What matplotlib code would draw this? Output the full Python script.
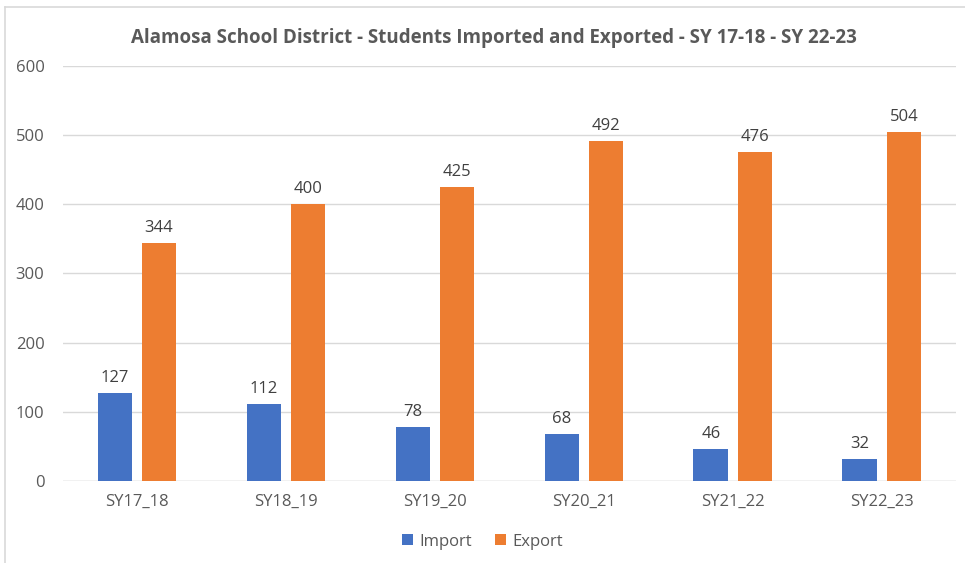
import matplotlib
matplotlib.use("Agg")
import matplotlib.pyplot as plt
import numpy as np
from matplotlib.lines import Line2D

categories = ["SY17_18", "SY18_19", "SY19_20", "SY20_21", "SY21_22", "SY22_23"]
import_vals = [127, 112, 78, 68, 46, 32]
export_vals = [344, 400, 425, 492, 476, 504]
yticks = [0, 100, 200, 300, 400, 500, 600]

BLUE = "#4472C4"
ORANGE = "#ED7D31"
TXT = "#595959"
GRID = "#D9D9D9"

plt.rcParams['font.family'] = ['Open Sans', 'DejaVu Sans']

fig = plt.figure(figsize=(9.65, 5.63), dpi=100)
ax = fig.add_axes([0.0648, 0.1456, 0.9262, 0.7374])

x = np.arange(len(categories))
w = 0.233
off = 0.148
b1 = ax.bar(x - off, import_vals, w, color=BLUE, label="Import", zorder=3)
b2 = ax.bar(x + off, export_vals, w, color=ORANGE, label="Export", zorder=3)

for bars, vals in ((b1, import_vals), (b2, export_vals)):
    for r, v in zip(bars, vals):
        ax.annotate(str(v), (r.get_x() + r.get_width() / 2, v), xytext=(0, 5),
                    textcoords="offset points", ha="center", va="bottom",
                    fontsize=12, color="#404040")

ax.set_xlim(-0.5, len(categories) - 0.5)
ax.set_ylim(0, 600)
ax.set_yticks(yticks)
ax.set_xticks(x)
ax.set_xticklabels(categories)
ax.tick_params(axis="both", length=0, labelsize=12, colors=TXT)
ax.tick_params(axis="x", pad=9)
ax.tick_params(axis="y", pad=13)
ax.yaxis.grid(True, color=GRID, linewidth=1, zorder=0)
for s in ax.spines.values():
    s.set_visible(False)
ax.axhline(0, color=GRID, linewidth=1, zorder=2)

fig.text(0.512, 0.932, "Alamosa School District - Students Imported and Exported - SY 17-18 - SY 22-23",
         ha="center", va="center", fontsize=13.5, fontweight="bold", color=TXT)

leg = fig.legend(handles=[b1, b2], labels=["Import", "Export"], loc="center",
                 bbox_to_anchor=(0.5, 0.038), ncol=2, frameon=False, fontsize=12,
                 handlelength=0.65, handleheight=0.65, handletextpad=0.4, columnspacing=1.4)
for t in leg.get_texts():
    t.set_color(TXT)

# chart border lines
fig.add_artist(Line2D([0.005, 1.0], [1 - 7 / 563, 1 - 7 / 563], color=GRID, linewidth=1.2, transform=fig.transFigure))
fig.add_artist(Line2D([0.005, 0.005], [0, 1 - 7 / 563], color=GRID, linewidth=1.2, transform=fig.transFigure))

fig.savefig("out.png", dpi=100, facecolor="white")
